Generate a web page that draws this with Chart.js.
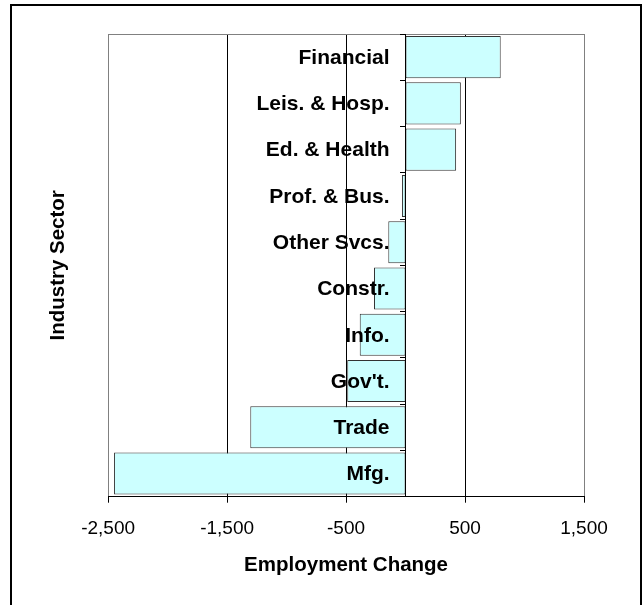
<!DOCTYPE html>
<html>
<head>
<meta charset="utf-8">
<script src="https://cdn.jsdelivr.net/npm/chart.js@4"></script>
<style>
  body { margin: 0; background: #fff; }
  #wrap { position: relative; width: 643px; height: 605px; overflow: hidden; }
  #frame { position: absolute; left: 10px; top: 4px; width: 632px; height: 700px; border: 2px solid #000; box-sizing: border-box; }
  canvas { position: absolute; left: 0; top: 0; }
</style>
</head>
<body>
<div id="wrap">
  <canvas id="barChart" width="643" height="605"></canvas>
  <div id="frame"></div>
</div>
<script>
// industry sectors, top to bottom
const sectors = ['Financial', 'Leis. & Hosp.', 'Ed. & Health', 'Prof. & Bus.', 'Other Svcs.',
  'Constr.', 'Info.', "Gov't.", 'Trade', 'Mfg.'];

// employment change per sector
const employmentChange = [800, 465, 425, -30, -145, -265, -385, -490, -1305, -2450];

// value axis range
const axisMin = -2500;
const axisMax = 1500;
const axisStep = 1000;

const fontFamily = "'Liberation Sans', Arial, sans-serif";
Chart.defaults.font.family = fontFamily;
Chart.defaults.color = '#000';

// gray line along the top of the plot area
const plotTop = {
  id: 'plotTop',
  beforeDatasetsDraw(chart) {
    const { ctx, chartArea } = chart;
    ctx.save();
    ctx.strokeStyle = '#808080';
    ctx.lineWidth = 1;
    ctx.beginPath();
    ctx.moveTo(chartArea.left, chartArea.top + 0.5);
    ctx.lineTo(chartArea.right, chartArea.top + 0.5);
    ctx.stroke();
    ctx.restore();
  }
};

// category names sit left of the zero line, on top of the bars
const sectorLabels = {
  id: 'sectorLabels',
  afterDatasetsDraw(chart) {
    const { ctx, scales } = chart;
    const x0 = scales.x.getPixelForValue(0) - 16;
    ctx.save();
    ctx.fillStyle = '#000';
    ctx.font = 'bold 21px ' + fontFamily;
    ctx.textAlign = 'right';
    ctx.textBaseline = 'middle';
    sectors.forEach((name, i) => {
      ctx.fillText(name, x0, scales.y.getPixelForValue(i) + 1);
    });
    ctx.restore();
  }
};

const ctx = document.getElementById('barChart').getContext('2d');

new Chart(ctx, {
  type: 'bar',
  data: {
    labels: sectors,
    datasets: [{
      data: employmentChange,
      backgroundColor: '#CCFFFF',
      borderColor: '#333333',
      borderWidth: 1,
      borderSkipped: false,
      barPercentage: 0.91,
      categoryPercentage: 1.0
    }]
  },
  options: {
    indexAxis: 'y',
    responsive: false,
    animation: false,
    layout: { padding: { left: 0, right: 59, top: 34, bottom: 0 } },
    plugins: {
      legend: { display: false },
      tooltip: { enabled: false }
    },
    scales: {
      x: {
        position: 'bottom',
        min: axisMin,
        max: axisMax,
        ticks: {
          stepSize: axisStep,
          padding: 15,
          font: { size: 19 }
        },
        grid: {
          color: c => (c.tick && (c.tick.value === axisMin || c.tick.value === axisMax)) ? '#808080' : '#000',
          tickColor: '#000',
          tickLength: 6
        },
        border: { color: '#000' },
        title: {
          display: true,
          text: 'Employment Change',
          font: { size: 20.5, weight: 'bold' },
          padding: { top: 0, bottom: 27 }
        },
        afterFit: s => { s.height = 108.3; }
      },
      y: {
        position: { x: 0 },
        ticks: { display: false },
        grid: { drawOnChartArea: false, color: '#000', tickColor: '#000', tickLength: 5, z: 1 },
        border: { color: '#000', z: 1 }
      },
      yTitle: {
        axis: 'y',
        type: 'linear',
        position: 'left',
        ticks: { display: false },
        grid: { display: false, drawTicks: false },
        border: { display: false },
        title: {
          display: true,
          text: 'Industry Sector',
          font: { size: 20.5, weight: 'bold' },
          padding: { top: 46, bottom: 37.5 }
        }
      }
    }
  },
  plugins: [plotTop, sectorLabels]
});
</script>
</body>
</html>
